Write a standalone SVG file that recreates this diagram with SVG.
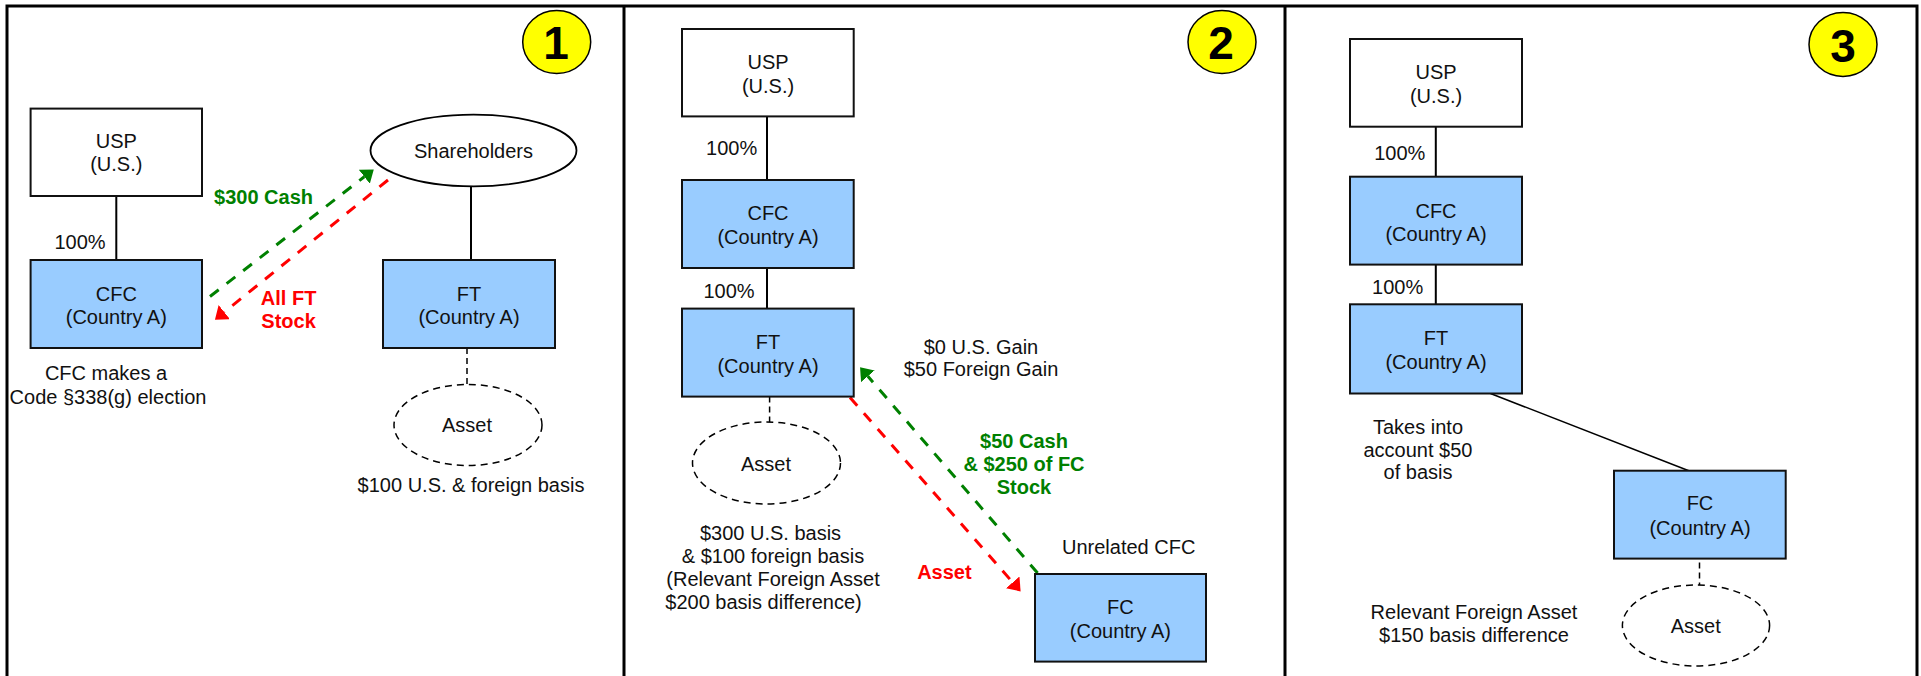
<svg xmlns="http://www.w3.org/2000/svg" width="1921" height="676" viewBox="0 0 1921 676">
<style>
text{font-family:"Liberation Sans",Arial,sans-serif;font-size:20px;fill:#111;text-anchor:middle}
.b{font-weight:bold}.gt{fill:#008000}.rt{fill:#f00}
.num{font-weight:bold;font-size:46px;fill:#000}
.box{stroke:#111;stroke-width:2;fill:#fff}.blue{fill:#99ccff}
.oval{fill:#fff;stroke:#000;stroke-width:1.8}
.dash{fill:#fff;stroke:#000;stroke-width:1.5;stroke-dasharray:7 5}
.badge{fill:#ff0;stroke:#000;stroke-width:1.5}
.frame{stroke:#000;stroke-width:3;fill:none}
.solid{stroke:#000;stroke-width:2;fill:none}
.thin{stroke:#000;stroke-width:1.5;fill:none;stroke-dasharray:6 4}
.g{stroke:#008000;stroke-width:3;stroke-dasharray:11 10;fill:none;marker-end:url(#ga)}
.r{stroke:#f00;stroke-width:3;stroke-dasharray:11 10;fill:none;marker-end:url(#ra)}
</style>
<defs>
<marker id="ga" markerUnits="userSpaceOnUse" markerWidth="13" markerHeight="20" refX="0" refY="9" orient="auto"><path d="M0 0L12 9L0 18Z" fill="#008000"/></marker>
<marker id="ra" markerUnits="userSpaceOnUse" markerWidth="13" markerHeight="20" refX="0" refY="9" orient="auto"><path d="M0 0L12 9L0 18Z" fill="#f00"/></marker>
</defs>
<rect width="1921" height="676" fill="#fff"/>
<g id="frame" class="frame"><path d="M7 676V6H1917V676M624 6V676M1285 6V676"/></g>
<g id="connectors">
<path class="solid" d="M116.300 196V260M471 186V260M767 116.400V180M767 268V308.600M1435.800 126.700V176.700M1435.800 264.600V304.300"/>
<path class="solid" style="stroke-width:1.5" d="M1490.500 393.500L1688.800 470.700"/>
<path class="thin" d="M467 348V384.500M769.600 396.500V422.400M1699.500 562.500V585"/>
<path class="g" d="M210 296.500L364.300 176.750"/>
<path class="r" d="M388 180L224.300 312.100"/>
<path class="g" d="M1037.600 573L867.900 376.300"/>
<path class="r" d="M850 397.400L1012.700 582.400"/>
</g>
<g id="badge1"><ellipse class="badge" cx="556.700" cy="42" rx="34" ry="31.500"/><text class="num" x="556" y="59">1</text></g>
<g id="p1-usp"><rect class="box" x="30.600" y="108.600" width="171.400" height="87.400"/><text x="116.300" y="147.500">USP</text><text x="116.300" y="171">(U.S.)</text></g>
<g id="p1-cfc"><rect class="box blue" x="30.600" y="260" width="171.400" height="88"/><text x="116.300" y="300.500">CFC</text><text x="116.300" y="323.700">(Country A)</text></g>
<g id="p1-sh"><ellipse class="oval" cx="473.500" cy="150.500" rx="103" ry="35.800"/><text x="473.500" y="158">Shareholders</text></g>
<g id="p1-ft"><rect class="box blue" x="383" y="260" width="172" height="88"/><text x="469" y="300.500">FT</text><text x="469" y="323.700">(Country A)</text></g>
<g id="p1-asset"><ellipse class="dash" cx="468" cy="425" rx="74" ry="40.500"/><text x="467" y="432">Asset</text></g>
<g id="p1-labels">
<text x="80" y="249">100%</text>
<text class="b gt" x="263.500" y="204">$300 Cash</text>
<text class="b rt" x="288.600" y="304.700">All FT</text><text class="b rt" x="288.600" y="327.600">Stock</text>
<text x="106" y="380">CFC makes a</text><text x="108" y="403.500">Code §338(g) election</text>
<text x="471" y="492">$100 U.S. &amp; foreign basis</text>
</g>
<g id="badge2"><ellipse class="badge" cx="1222" cy="42" rx="34" ry="31.500"/><text class="num" x="1221" y="59">2</text></g>
<g id="p2-usp"><rect class="box" x="682" y="29" width="171.700" height="87.400"/><text x="768" y="69">USP</text><text x="768" y="92.700">(U.S.)</text></g>
<g id="p2-cfc"><rect class="box blue" x="682" y="180" width="171.700" height="88"/><text x="768" y="220">CFC</text><text x="768" y="243.500">(Country A)</text></g>
<g id="p2-ft"><rect class="box blue" x="682" y="308.600" width="171.700" height="88"/><text x="768" y="349">FT</text><text x="768" y="373">(Country A)</text></g>
<g id="p2-asset"><ellipse class="dash" cx="766.500" cy="463" rx="74" ry="41"/><text x="766" y="471">Asset</text></g>
<g id="p2-fc"><rect class="box blue" x="1035" y="574" width="171" height="87.600"/><text x="1120.400" y="614">FC</text><text x="1120.400" y="638">(Country A)</text></g>
<g id="p2-labels">
<text x="731.600" y="155">100%</text><text x="729" y="298">100%</text>
<text x="981" y="353.500">$0 U.S. Gain</text><text x="981" y="376.300">$50 Foreign Gain</text>
<text class="b gt" x="1024" y="448">$50 Cash</text><text class="b gt" x="1024" y="471">&amp; $250 of FC</text><text class="b gt" x="1024" y="494">Stock</text>
<text x="1128.700" y="554">Unrelated CFC</text>
<text class="b rt" x="944.400" y="579">Asset</text>
<text x="770.500" y="540">$300 U.S. basis</text><text x="773" y="563">&amp; $100 foreign basis</text><text x="773" y="586">(Relevant Foreign Asset</text><text x="763.500" y="609">$200 basis difference)</text>
</g>
<g id="badge3"><ellipse class="badge" cx="1843" cy="44.400" rx="34" ry="32"/><text class="num" x="1843" y="61.600">3</text></g>
<g id="p3-usp"><rect class="box" x="1350" y="39" width="172" height="87.700"/><text x="1436" y="79.300">USP</text><text x="1436" y="103">(U.S.)</text></g>
<g id="p3-cfc"><rect class="box blue" x="1350" y="176.700" width="172" height="87.900"/><text x="1436" y="217.700">CFC</text><text x="1436" y="241">(Country A)</text></g>
<g id="p3-ft"><rect class="box blue" x="1350" y="304.300" width="172" height="89.200"/><text x="1436" y="345">FT</text><text x="1436" y="369">(Country A)</text></g>
<g id="p3-fc"><rect class="box blue" x="1614" y="470.700" width="171.700" height="87.900"/><text x="1700" y="510">FC</text><text x="1700" y="534.500">(Country A)</text></g>
<g id="p3-asset"><ellipse class="dash" cx="1696" cy="625.500" rx="73.600" ry="40.500"/><text x="1695.800" y="633">Asset</text></g>
<g id="p3-labels">
<text x="1399.800" y="159.500">100%</text><text x="1397.700" y="294.400">100%</text>
<text x="1418" y="434">Takes into</text><text x="1418" y="457">account $50</text><text x="1418" y="479">of basis</text>
<text x="1474" y="619.400">Relevant Foreign Asset</text><text x="1474" y="642">$150 basis difference</text>
</g>
</svg>
